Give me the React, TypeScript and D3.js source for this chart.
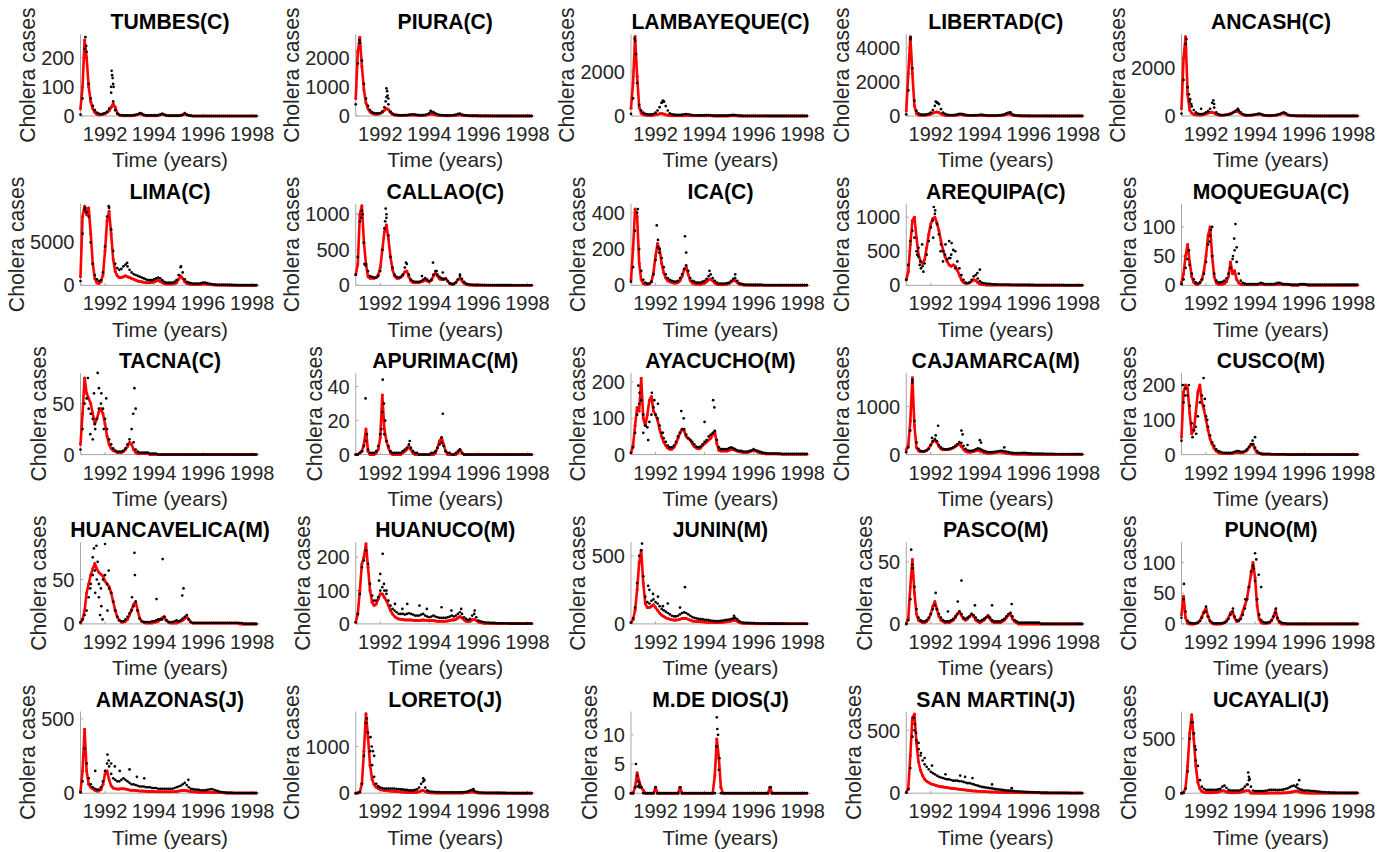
import * as d3 from "d3";

// monthly sampling times of the reconstructed series (years)
const months = d3.range(87).map((i) => 1991 + i / 12);
const yearTicks = [1992, 1994, 1996, 1998];

// ---- Row 1 ----
const tumbesObs = [
  5, 60, 230, 220, 110, 60, 35, 20, 12, 8, 6, 8,
  10, 15, 25, 100, 50, 20, 8, 4, 3, 2, 2, 2,
  2, 2, 3, 4, 6, 10, 8, 4, 2, 2, 2, 2,
  2, 2, 3, 5, 8, 5, 2, 1, 1, 1, 1, 1,
  1, 2, 4, 10, 5, 2, 1, 0, 0, 0, 0, 0,
  0, 0, 0, 0, 0, 0, 0, 0, 0, 0, 0, 0,
  0, 0, 0, 0, 0, 0, 0, 0, 0, 0, 0, 0,
  0, 0, 0,
];
const tumbesFit = [
  25, 100, 260, 200, 100, 50, 25, 12, 6, 4, 4, 6,
  8, 12, 18, 30, 42, 30, 10, 3, 1, 1, 1, 1,
  1, 1, 2, 3, 5, 8, 6, 3, 1, 1, 1, 1,
  1, 1, 2, 4, 6, 4, 2, 1, 1, 1, 1, 1,
  1, 2, 4, 7, 4, 2, 1, 0, 0, 0, 0, 0,
  0, 0, 0, 0, 0, 0, 0, 0, 0, 0, 0, 0,
  0, 0, 0, 0, 0, 0, 0, 0, 0, 0, 0, 0,
  0, 0, 0,
];
const tumbesExtra = [[1992.27, 155], [1992.29, 140], [1992.31, 130], [1992.33, 110], [1992.35, 100], [1992.25, 80], [1991.2, 270], [1991.23, 240]];

const piuraObs = [
  400, 1800, 2500, 1900, 1100, 600, 350, 200, 130, 100, 90, 90,
  100, 150, 300, 650, 400, 150, 80, 50, 40, 30, 25, 25,
  30, 30, 40, 50, 60, 50, 40, 30, 30, 30, 40, 60,
  100, 150, 130, 90, 60, 40, 30, 25, 20, 20, 20, 25,
  30, 50, 70, 80, 50, 30, 20, 15, 10, 10, 10, 10,
  8, 8, 8, 6, 5, 5, 4, 4, 4, 4, 4, 4,
  4, 3, 3, 3, 3, 3, 3, 2, 2, 2, 2, 2,
  2, 2, 2,
];
const piuraFit = [
  600, 2200, 2700, 1700, 900, 450, 250, 140, 90, 70, 60, 70,
  90, 130, 200, 260, 220, 120, 60, 35, 25, 20, 20, 20,
  22, 25, 30, 35, 35, 30, 25, 20, 20, 22, 28, 40,
  60, 70, 60, 40, 25, 18, 15, 12, 10, 10, 10, 12,
  15, 25, 35, 40, 25, 15, 10, 7, 5, 5, 5, 5,
  4, 4, 4, 3, 3, 3, 2, 2, 2, 2, 2, 2,
  2, 2, 2, 2, 1, 1, 1, 1, 1, 1, 1, 1,
  1, 1, 1,
];
const piuraExtra = [[1992.25, 950], [1992.28, 850], [1992.3, 700], [1992.33, 600], [1992.22, 500], [1994.05, 180], [1991.15, 2600]];

const lambayequeObs = [
  100, 800, 3400, 1500, 500, 250, 150, 100, 80, 70, 70, 90,
  150, 250, 400, 600, 650, 450, 250, 120, 80, 60, 50, 50,
  50, 60, 80, 90, 80, 60, 40, 30, 30, 30, 30, 30,
  30, 40, 40, 30, 20, 20, 15, 15, 15, 15, 15, 20,
  25, 40, 50, 40, 30, 20, 15, 10, 10, 10, 10, 10,
  8, 8, 7, 6, 6, 5, 5, 5, 4, 4, 4, 4,
  4, 3, 3, 3, 3, 3, 2, 2, 2, 2, 2, 2,
  2, 2, 2,
];
const lambayequeFit = [
  350, 1500, 3600, 1800, 400, 120, 60, 40, 30, 30, 30, 40,
  60, 80, 100, 110, 90, 60, 35, 20, 15, 10, 10, 10,
  12, 15, 20, 22, 20, 15, 10, 8, 8, 8, 8, 8,
  10, 12, 12, 10, 6, 5, 4, 4, 4, 4, 4, 5,
  6, 10, 12, 10, 6, 4, 3, 2, 2, 2, 2, 2,
  2, 2, 2, 1, 1, 1, 1, 1, 1, 1, 1, 1,
  1, 1, 1, 1, 1, 1, 1, 1, 1, 1, 1, 1,
  1, 1, 1,
];
const lambayequeExtra = [[1991.15, 3500], [1991.2, 2800], [1992.3, 700], [1992.35, 650], [1992.25, 600]];

const libertadObs = [
  100, 1500, 4500, 2800, 900, 300, 150, 100, 80, 80, 90, 120,
  200, 350, 600, 800, 700, 400, 200, 120, 80, 60, 60, 60,
  70, 90, 120, 130, 100, 70, 50, 40, 40, 40, 50, 60,
  70, 80, 60, 40, 30, 30, 30, 30, 30, 40, 50, 70,
  100, 150, 200, 180, 100, 50, 30, 20, 20, 15, 15, 15,
  12, 12, 10, 10, 10, 8, 8, 8, 6, 6, 6, 6,
  5, 5, 5, 4, 4, 4, 4, 3, 3, 3, 3, 3,
  3, 3, 3,
];
const libertadFit = [
  300, 2500, 4650, 2500, 600, 150, 60, 40, 40, 50, 60, 80,
  120, 170, 220, 240, 200, 130, 70, 40, 30, 30, 30, 30,
  40, 60, 80, 80, 60, 40, 30, 25, 25, 25, 30, 35,
  40, 40, 35, 25, 20, 20, 20, 20, 20, 25, 30, 40,
  60, 90, 130, 110, 60, 30, 15, 10, 8, 6, 5, 5,
  4, 4, 4, 4, 3, 3, 3, 3, 3, 3, 3, 3,
  2, 2, 2, 2, 2, 2, 2, 2, 2, 2, 2, 2,
  2, 2, 2,
];
const libertadExtra = [[1991.18, 4600], [1992.2, 850], [1992.25, 800], [1992.3, 750], [1995.25, 220]];

const ancashObs = [
  100, 1500, 3000, 1200, 600, 400, 250, 150, 100, 80, 80, 100,
  150, 200, 300, 550, 350, 150, 80, 50, 40, 40, 50, 60,
  80, 120, 180, 250, 230, 150, 80, 50, 40, 40, 40, 50,
  60, 80, 100, 80, 50, 30, 20, 20, 20, 30, 40, 60,
  80, 120, 150, 120, 60, 30, 20, 15, 10, 10, 10, 10,
  8, 8, 8, 6, 6, 5, 5, 5, 4, 4, 4, 4,
  4, 3, 3, 3, 3, 3, 3, 2, 2, 2, 2, 2,
  2, 2, 2,
];
const ancashFit = [
  300, 2400, 3300, 900, 250, 120, 70, 50, 40, 40, 40, 60,
  90, 120, 150, 160, 120, 70, 40, 30, 30, 40, 50, 70,
  100, 140, 180, 200, 170, 100, 50, 30, 25, 25, 30, 40,
  50, 70, 80, 60, 35, 20, 15, 15, 15, 20, 30, 45,
  60, 90, 110, 80, 40, 20, 10, 8, 6, 5, 5, 5,
  4, 4, 4, 3, 3, 3, 3, 2, 2, 2, 2, 2,
  2, 2, 2, 2, 1, 1, 1, 1, 1, 1, 1, 1,
  1, 1, 1,
];
const ancashExtra = [[1991.2, 3200], [1991.3, 900], [1991.35, 700], [1991.4, 500], [1992.3, 650], [1992.33, 500], [1993.3, 300], [1991.8, 300]];

// ---- Row 2 ----
const limaObs = [
  500, 6000, 8800, 8500, 8000, 5000, 2500, 1200, 700, 500, 600, 1500,
  4500, 8000, 9000, 6500, 4000, 2500, 2000, 1800, 1900, 2200, 2400, 2200,
  1800, 1500, 1300, 1200, 1100, 1000, 900, 800, 700, 600, 600, 600,
  700, 800, 900, 800, 600, 400, 300, 300, 300, 300, 400, 600,
  1200, 2100, 1500, 700, 400, 300, 250, 200, 200, 200, 200, 250,
  300, 300, 250, 200, 150, 100, 80, 60, 50, 50, 50, 50,
  50, 40, 40, 30, 30, 20, 20, 20, 20, 20, 20, 20,
  20, 20, 20,
];
const limaFit = [
  1000, 8000, 9200, 8200, 9000, 6000, 2500, 800, 300, 200, 400, 1200,
  4000, 7500, 8600, 6000, 3000, 1600, 1100, 900, 900, 1000, 1100, 1000,
  900, 800, 700, 600, 500, 450, 400, 350, 300, 300, 300, 350,
  400, 500, 550, 450, 300, 200, 150, 150, 150, 150, 200, 300,
  700, 1100, 800, 400, 200, 150, 120, 100, 100, 100, 100, 120,
  150, 150, 120, 100, 70, 50, 40, 30, 25, 25, 25, 25,
  25, 20, 20, 15, 15, 10, 10, 10, 10, 10, 10, 10,
  10, 10, 10,
];
const limaExtra = [[1992.15, 9200], [1991.2, 9000], [1995.1, 2200], [1992.9, 2600]];

const callaoObs = [
  150, 400, 900, 1050, 600, 300, 200, 130, 120, 110, 110, 130,
  200, 500, 800, 950, 700, 400, 250, 150, 120, 110, 120, 150,
  250, 300, 150, 80, 60, 50, 50, 50, 60, 80, 100, 80,
  60, 80, 150, 200, 150, 120, 100, 80, 90, 60, 30, 20,
  20, 40, 80, 130, 90, 50, 25, 15, 10, 8, 6, 5,
  5, 4, 4, 3, 3, 3, 3, 2, 2, 2, 2, 2,
  2, 2, 2, 2, 2, 1, 1, 1, 1, 1, 1, 1,
  1, 1, 1,
];
const callaoFit = [
  150, 300, 1000, 1120, 600, 300, 120, 100, 100, 100, 110, 150,
  250, 500, 750, 850, 650, 400, 220, 130, 100, 100, 110, 140,
  190, 200, 120, 60, 40, 35, 35, 40, 50, 60, 70, 60,
  50, 70, 130, 170, 130, 90, 80, 90, 100, 60, 25, 15,
  20, 40, 80, 100, 60, 30, 12, 6, 4, 3, 2, 2,
  2, 2, 2, 2, 1, 1, 1, 1, 1, 1, 1, 1,
  1, 1, 1, 1, 1, 1, 1, 1, 1, 1, 1, 1,
  1, 1, 1,
];
const callaoExtra = [[1991.22, 950], [1991.28, 1000], [1991.35, 300], [1991.4, 280], [1992.22, 1080], [1992.25, 1000], [1992.2, 900], [1993.05, 320], [1994.15, 320], [1994.3, 200], [1995.25, 150], [1993.7, 130], [1994.55, 180]];

const icaObs = [
  20, 100, 300, 400, 200, 80, 30, 15, 10, 10, 20, 60,
  140, 210, 200, 150, 100, 60, 40, 30, 25, 20, 20, 25,
  40, 60, 90, 110, 80, 40, 25, 20, 15, 15, 15, 20,
  25, 35, 50, 60, 40, 25, 15, 10, 10, 10, 10, 12,
  15, 25, 35, 40, 25, 12, 8, 5, 4, 3, 3, 2,
  2, 2, 2, 2, 2, 1, 1, 1, 1, 1, 1, 1,
  1, 1, 1, 1, 1, 1, 1, 1, 1, 1, 1, 1,
  1, 1, 1,
];
const icaFit = [
  30, 200, 420, 380, 120, 30, 10, 5, 5, 8, 20, 70,
  160, 230, 200, 120, 70, 40, 25, 20, 15, 12, 12, 15,
  25, 50, 85, 100, 60, 25, 12, 8, 6, 6, 6, 8,
  12, 20, 30, 35, 25, 12, 6, 4, 3, 3, 4, 6,
  10, 18, 25, 25, 15, 6, 3, 2, 1, 1, 1, 1,
  1, 1, 1, 1, 1, 0, 0, 0, 0, 0, 0, 0,
  0, 0, 0, 0, 0, 0, 0, 0, 0, 0, 0, 0,
  0, 0, 0,
];
const icaExtra = [[1991.28, 420], [1992.05, 330], [1992.1, 250], [1993.2, 270], [1993.25, 180], [1994.2, 80], [1995.25, 60], [1992.15, 180]];

const arequipaObs = [
  80, 300, 650, 800, 700, 500, 420, 350, 280, 320, 450, 650,
  850, 950, 1050, 900, 750, 600, 500, 450, 380, 400, 450, 520,
  500, 350, 250, 150, 80, 40, 30, 40, 80, 130, 150, 100,
  60, 40, 30, 25, 20, 20, 15, 15, 15, 12, 12, 12,
  10, 10, 10, 8, 8, 8, 6, 6, 6, 5, 5, 5,
  5, 5, 5, 4, 4, 4, 4, 4, 4, 3, 3, 3,
  3, 3, 3, 3, 3, 2, 2, 2, 2, 2, 2, 2,
  2, 2, 2,
];
const arequipaFit = [
  80, 200, 600, 950, 1000, 700, 450, 350, 320, 380, 550, 750,
  900, 980, 1000, 920, 800, 650, 520, 420, 350, 300, 280, 300,
  280, 220, 150, 80, 40, 30, 30, 40, 60, 80, 70, 40,
  20, 10, 8, 6, 6, 5, 5, 5, 5, 4, 4, 4,
  4, 4, 4, 3, 3, 3, 3, 3, 3, 3, 3, 3,
  2, 2, 2, 2, 2, 2, 2, 2, 2, 2, 2, 2,
  2, 2, 2, 2, 2, 2, 1, 1, 1, 1, 1, 1,
  1, 1, 1,
];
const arequipaExtra = [[1991.45, 450], [1991.55, 300], [1991.6, 250], [1991.65, 600], [1991.7, 200], [1992.12, 1150], [1992.18, 1100], [1992.1, 700], [1992.6, 600], [1992.75, 650], [1992.85, 620], [1992.8, 400], [1993.0, 250], [1994.0, 230], [1993.9, 180], [1991.5, 550], [1992.4, 500], [1992.5, 350]];

const moqueguaObs = [
  2, 10, 30, 45, 35, 20, 10, 5, 3, 5, 10, 20,
  40, 70, 85, 50, 20, 8, 5, 5, 6, 8, 12, 20,
  30, 45, 60, 40, 20, 8, 4, 3, 2, 2, 2, 2,
  2, 2, 3, 4, 3, 2, 2, 2, 2, 2, 3, 4,
  4, 3, 2, 2, 2, 1, 1, 1, 1, 1, 2, 2,
  2, 1, 1, 1, 1, 1, 1, 1, 1, 1, 1, 1,
  1, 1, 1, 1, 1, 1, 1, 1, 1, 1, 1, 1,
  1, 1, 1,
];
const moqueguaFit = [
  5, 20, 50, 70, 40, 15, 5, 2, 2, 4, 10, 25,
  50, 85, 100, 50, 15, 4, 2, 2, 2, 3, 6, 15,
  40, 20, 25, 10, 4, 2, 1, 1, 1, 1, 1, 1,
  1, 1, 2, 2, 2, 1, 1, 1, 1, 1, 1, 2,
  2, 2, 1, 1, 1, 1, 0, 0, 0, 0, 1, 1,
  1, 1, 0, 0, 0, 0, 0, 0, 0, 0, 0, 0,
  0, 0, 0, 0, 0, 0, 0, 0, 0, 0, 0, 0,
  0, 0, 0,
];
const moqueguaExtra = [[1993.2, 105], [1993.15, 80], [1993.25, 65], [1992.25, 100], [1992.2, 95], [1993.1, 50], [1991.3, 60], [1992.15, 75]];

// ---- Row 3 ----
const tacnaObs = [
  5, 25, 50, 55, 45, 40, 35, 30, 35, 45, 50, 45,
  35, 25, 15, 10, 6, 4, 3, 3, 3, 4, 6, 10,
  15, 25, 12, 5, 3, 2, 2, 2, 2, 2, 1, 1,
  1, 1, 0, 0, 0, 0, 0, 0, 0, 0, 0, 0,
  0, 0, 0, 0, 0, 0, 0, 0, 0, 0, 0, 0,
  0, 0, 0, 0, 0, 0, 0, 0, 0, 0, 0, 0,
  0, 0, 0, 0, 0, 0, 0, 0, 0, 0, 0, 0,
  0, 0, 0,
];
const tacnaFit = [
  10, 40, 75, 60, 55, 50, 40, 30, 35, 42, 45, 40,
  30, 18, 10, 6, 4, 3, 2, 2, 2, 3, 5, 8,
  12, 10, 5, 2, 1, 1, 1, 1, 1, 1, 0, 0,
  0, 0, 0, 0, 0, 0, 0, 0, 0, 0, 0, 0,
  0, 0, 0, 0, 0, 0, 0, 0, 0, 0, 0, 0,
  0, 0, 0, 0, 0, 0, 0, 0, 0, 0, 0, 0,
  0, 0, 0, 0, 0, 0, 0, 0, 0, 0, 0, 0,
  0, 0, 0,
];
const tacnaExtra = [[1991.3, 75], [1991.4, 20], [1991.5, 15], [1991.7, 80], [1991.75, 65], [1991.6, 25], [1991.85, 60], [1993.2, 65], [1993.25, 45], [1993.15, 40], [1991.55, 60], [1991.95, 25], [1992.05, 55]];

const apurimacObs = [
  0, 0, 1, 2, 5, 8, 3, 1, 1, 1, 2, 5,
  12, 25, 12, 8, 5, 2, 1, 1, 1, 1, 1, 2,
  3, 4, 6, 4, 2, 1, 1, 0, 0, 0, 0, 0,
  0, 1, 1, 2, 4, 6, 7, 5, 2, 1, 1, 0,
  0, 1, 2, 3, 1, 0, 0, 0, 0, 0, 0, 0,
  0, 0, 0, 0, 0, 0, 0, 0, 0, 0, 0, 0,
  0, 0, 0, 0, 0, 0, 0, 0, 0, 0, 0, 0,
  0, 0, 0,
];
const apurimacFit = [
  0, 0, 1, 2, 6, 15, 2, 0, 0, 0, 1, 3,
  10, 35, 15, 8, 4, 1, 0, 0, 0, 0, 0, 1,
  2, 3, 5, 3, 1, 0, 0, 0, 0, 0, 0, 0,
  0, 0, 0, 1, 4, 8, 10, 6, 2, 0, 0, 0,
  0, 0, 1, 3, 1, 0, 0, 0, 0, 0, 0, 0,
  0, 0, 0, 0, 0, 0, 0, 0, 0, 0, 0, 0,
  0, 0, 0, 0, 0, 0, 0, 0, 0, 0, 0, 0,
  0, 0, 0,
];
const apurimacExtra = [[1991.4, 33], [1992.1, 44], [1992.15, 30], [1992.2, 20], [1994.55, 24], [1994.5, 10], [1993.2, 8], [1992.05, 15], [1991.45, 12]];

const ayacuchoObs = [
  5, 20, 60, 110, 140, 150, 110, 80, 75, 90, 110, 130,
  110, 100, 80, 60, 45, 35, 25, 20, 20, 25, 35, 50,
  60, 70, 70, 55, 45, 40, 35, 28, 22, 20, 22, 28,
  35, 40, 50, 55, 60, 65, 40, 20, 15, 15, 15, 15,
  18, 20, 18, 15, 12, 10, 10, 8, 8, 8, 10, 12,
  15, 12, 10, 8, 6, 5, 4, 3, 3, 3, 3, 3,
  2, 2, 2, 2, 2, 2, 2, 2, 2, 2, 2, 2,
  2, 2, 2,
];
const ayacuchoFit = [
  5, 25, 80, 130, 120, 210, 100, 80, 110, 150, 160, 120,
  110, 95, 70, 50, 35, 25, 18, 15, 15, 20, 30, 45,
  60, 70, 65, 50, 45, 40, 30, 22, 18, 16, 18, 25,
  30, 35, 40, 45, 55, 65, 30, 12, 10, 10, 10, 10,
  12, 14, 14, 12, 10, 8, 7, 6, 6, 6, 8, 10,
  12, 10, 7, 5, 4, 3, 2, 2, 2, 2, 2, 2,
  2, 2, 1, 1, 1, 1, 1, 1, 1, 1, 1, 1,
  1, 1, 1,
];
const ayacuchoExtra = [[1991.3, 190], [1991.35, 170], [1991.85, 170], [1991.95, 150], [1992.1, 140], [1993.05, 120], [1993.15, 100], [1994.35, 150], [1994.4, 130], [1991.5, 60], [1992.3, 60], [1991.7, 40], [1994.0, 90]];

const cajamarcaObs = [
  50, 150, 500, 1500, 700, 250, 120, 80, 70, 70, 90, 120,
  200, 280, 320, 280, 200, 150, 120, 110, 110, 120, 130, 150,
  180, 220, 260, 240, 180, 120, 90, 80, 80, 90, 110, 130,
  120, 100, 80, 60, 50, 50, 50, 55, 60, 70, 80, 80,
  70, 60, 50, 40, 35, 30, 30, 30, 30, 35, 35, 30,
  25, 25, 20, 20, 20, 20, 20, 20, 18, 15, 15, 15,
  15, 12, 12, 12, 10, 10, 10, 10, 10, 10, 10, 10,
  10, 10, 10,
];
const cajamarcaFit = [
  100, 200, 700, 1600, 600, 150, 80, 60, 60, 70, 90, 130,
  200, 270, 300, 250, 170, 120, 100, 100, 100, 110, 120, 140,
  170, 200, 210, 170, 110, 70, 55, 50, 55, 65, 80, 90,
  80, 60, 45, 35, 30, 30, 35, 40, 50, 55, 55, 50,
  40, 30, 25, 20, 15, 12, 10, 10, 10, 10, 10, 8,
  6, 5, 5, 5, 4, 4, 4, 4, 4, 3, 3, 3,
  3, 3, 3, 3, 2, 2, 2, 2, 2, 2, 2, 2,
  2, 2, 2,
];
const cajamarcaExtra = [[1992.2, 400], [1992.3, 600], [1993.25, 500], [1993.3, 420], [1994.0, 300], [1994.05, 250], [1992.05, 350], [1995.0, 150], [1991.25, 1550], [1993.5, 200]];

const cuscoObs = [
  40, 150, 190, 170, 140, 90, 70, 80, 110, 150, 170, 140,
  110, 80, 55, 35, 25, 15, 10, 8, 6, 5, 5, 5,
  5, 6, 8, 10, 10, 8, 8, 10, 15, 22, 30, 30,
  20, 10, 5, 3, 2, 2, 2, 2, 1, 1, 1, 1,
  1, 1, 1, 1, 0, 0, 0, 0, 0, 0, 0, 0,
  0, 0, 0, 0, 0, 0, 0, 0, 0, 0, 0, 0,
  0, 0, 0, 0, 0, 0, 0, 0, 0, 0, 0, 0,
  0, 0, 0,
];
const cuscoFit = [
  50, 180, 200, 190, 120, 60, 70, 120, 180, 200, 150, 130,
  100, 70, 45, 30, 18, 10, 6, 4, 3, 3, 3, 3,
  3, 4, 5, 6, 6, 5, 6, 8, 12, 20, 28, 28,
  15, 6, 3, 2, 1, 1, 1, 1, 1, 1, 0, 0,
  0, 0, 0, 0, 0, 0, 0, 0, 0, 0, 0, 0,
  0, 0, 0, 0, 0, 0, 0, 0, 0, 0, 0, 0,
  0, 0, 0, 0, 0, 0, 0, 0, 0, 0, 0, 0,
  0, 0, 0,
];
const cuscoExtra = [[1991.05, 200], [1991.15, 170], [1991.9, 220], [1991.95, 160], [1991.45, 50], [1992.05, 100], [1994.0, 50], [1993.9, 40], [1991.6, 60], [1991.3, 200]];

// ---- Row 4 ----
const huancavelicaObs = [
  2, 5, 10, 15, 30, 45, 55, 60, 50, 45, 40, 50,
  55, 45, 40, 35, 25, 15, 8, 4, 3, 3, 5, 8,
  12, 15, 20, 25, 15, 6, 3, 2, 2, 2, 2, 3,
  3, 4, 5, 5, 5, 8, 4, 2, 2, 2, 3, 4,
  3, 4, 6, 8, 10, 5, 2, 1, 1, 1, 1, 1,
  1, 1, 1, 1, 1, 1, 1, 1, 1, 1, 1, 1,
  1, 1, 1, 1, 1, 1, 1, 1, 0, 0, 0, 0,
  0, 0, 0,
];
const huancavelicaFit = [
  1, 5, 15, 35, 45, 55, 62, 68, 62, 58, 56, 54,
  48, 45, 42, 35, 25, 15, 8, 4, 2, 2, 3, 5,
  10, 16, 22, 25, 15, 6, 3, 2, 1, 1, 1, 1,
  2, 2, 3, 5, 7, 8, 4, 2, 1, 1, 1, 1,
  2, 3, 4, 6, 8, 5, 2, 1, 1, 1, 1, 1,
  1, 1, 1, 1, 1, 1, 1, 1, 1, 1, 1, 1,
  1, 1, 1, 1, 1, 1, 0, 0, 0, 0, 0, 0,
  0, 0, 0,
];
const huancavelicaExtra = [[1991.55, 85], [1991.65, 88], [1991.5, 75], [1991.7, 70], [1992.0, 90], [1991.85, 20], [1991.9, 5], [1991.75, 30], [1992.15, 60], [1993.2, 80], [1993.22, 55], [1993.1, 30], [1994.35, 73], [1994.1, 28], [1995.2, 40], [1995.15, 32], [1991.6, 35], [1991.8, 10], [1992.1, 15], [1991.4, 40]];

const huanucoObs = [
  5, 30, 90, 170, 190, 220, 180, 120, 85, 70, 70, 80,
  100, 110, 100, 90, 70, 55, 45, 40, 35, 30, 30, 30,
  28, 30, 32, 30, 28, 25, 25, 25, 28, 30, 25, 22,
  20, 22, 25, 22, 20, 18, 18, 18, 18, 20, 22, 25,
  22, 25, 30, 35, 30, 20, 15, 12, 15, 25, 30, 20,
  10, 8, 6, 5, 4, 4, 3, 3, 3, 2, 2, 2,
  2, 2, 2, 1, 1, 1, 1, 1, 1, 1, 1, 1,
  1, 1, 1,
];
const huanucoFit = [
  5, 30, 100, 180, 200, 240, 170, 100, 65, 55, 60, 75,
  90, 90, 80, 70, 55, 40, 30, 22, 18, 15, 14, 13,
  12, 12, 12, 12, 11, 10, 10, 10, 11, 12, 11, 10,
  10, 10, 10, 9, 8, 8, 8, 8, 8, 9, 10, 12,
  12, 14, 18, 22, 18, 12, 8, 7, 8, 12, 14, 10,
  6, 4, 3, 2, 2, 2, 2, 1, 1, 1, 1, 1,
  1, 1, 1, 1, 1, 1, 1, 1, 1, 1, 1, 1,
  1, 1, 1,
];
const huanucoExtra = [[1992.1, 210], [1992.0, 150], [1991.95, 130], [1992.15, 120], [1992.25, 100], [1993.1, 60], [1993.6, 55], [1994.5, 50], [1995.3, 45], [1995.85, 40], [1992.9, 45], [1993.9, 45], [1992.6, 60], [1994.9, 40]];

const juninObs = [
  10, 40, 120, 300, 500, 540, 350, 200, 160, 150, 170, 180,
  160, 150, 130, 110, 100, 90, 80, 70, 60, 55, 55, 60,
  70, 80, 85, 80, 70, 60, 50, 45, 40, 38, 35, 35,
  30, 30, 28, 25, 22, 20, 20, 20, 22, 25, 28, 30,
  32, 35, 40, 45, 35, 20, 12, 10, 8, 8, 7, 6,
  5, 4, 4, 3, 3, 3, 3, 2, 2, 2, 2, 2,
  2, 2, 2, 2, 1, 1, 1, 1, 1, 1, 1, 1,
  1, 1, 1,
];
const juninFit = [
  10, 30, 100, 250, 450, 540, 300, 150, 120, 120, 130, 140,
  120, 100, 80, 65, 55, 45, 40, 35, 30, 28, 28, 30,
  35, 40, 42, 40, 35, 28, 22, 20, 18, 17, 16, 15,
  14, 13, 12, 11, 10, 10, 10, 10, 11, 12, 14, 16,
  18, 22, 26, 28, 20, 10, 6, 5, 4, 3, 3, 3,
  2, 2, 2, 2, 2, 2, 2, 2, 2, 2, 2, 2,
  2, 2, 2, 2, 1, 1, 1, 1, 1, 1, 1, 1,
  1, 1, 1,
];
const juninExtra = [[1991.45, 590], [1991.7, 280], [1991.75, 250], [1991.9, 220], [1992.1, 200], [1993.2, 270], [1993.0, 120], [1992.5, 150], [1992.3, 130], [1995.2, 60]];

const pascoObs = [
  0, 3, 20, 45, 30, 12, 5, 3, 2, 2, 3, 5,
  8, 12, 15, 12, 8, 5, 3, 2, 2, 2, 3, 4,
  6, 8, 10, 8, 5, 4, 5, 6, 8, 7, 5, 3,
  2, 3, 4, 5, 6, 5, 3, 2, 2, 2, 2, 3,
  4, 6, 8, 9, 6, 3, 2, 1, 1, 1, 1, 1,
  1, 1, 1, 1, 1, 1, 0, 0, 0, 0, 0, 0,
  0, 0, 0, 0, 0, 0, 0, 0, 0, 0, 0, 0,
  0, 0, 0,
];
const pascoFit = [
  0, 5, 30, 52, 25, 8, 3, 2, 1, 1, 2, 4,
  8, 14, 18, 12, 6, 3, 2, 1, 1, 1, 2, 3,
  5, 8, 10, 7, 4, 3, 4, 6, 8, 6, 3, 2,
  1, 2, 3, 5, 7, 4, 2, 1, 1, 1, 1, 2,
  3, 5, 7, 8, 4, 2, 1, 0, 0, 0, 0, 0,
  0, 0, 0, 0, 0, 0, 0, 0, 0, 0, 0, 0,
  0, 0, 0, 0, 0, 0, 0, 0, 0, 0, 0, 0,
  0, 0, 0,
];
const pascoExtra = [[1991.2, 60], [1991.25, 48], [1993.25, 35], [1992.2, 25], [1993.8, 15], [1995.3, 16], [1994.5, 15], [1993.1, 18], [1992.7, 10]];

const punoObs = [
  10, 40, 20, 5, 2, 1, 1, 1, 2, 5, 10, 18,
  20, 12, 5, 2, 1, 1, 1, 1, 1, 2, 4, 8,
  15, 20, 12, 6, 5, 8, 15, 25, 40, 60, 85, 95,
  70, 40, 15, 6, 3, 2, 2, 3, 6, 12, 18, 10,
  4, 2, 1, 1, 0, 0, 0, 0, 0, 0, 0, 0,
  0, 0, 0, 0, 0, 0, 0, 0, 0, 0, 0, 0,
  0, 0, 0, 0, 0, 0, 0, 0, 0, 0, 0, 0,
  0, 0, 0,
];
const punoFit = [
  15, 45, 10, 1, 0, 0, 0, 1, 2, 5, 12, 20,
  25, 12, 4, 1, 0, 0, 0, 0, 1, 2, 5, 10,
  18, 20, 10, 4, 5, 10, 20, 30, 40, 60, 80, 100,
  75, 30, 8, 2, 1, 1, 1, 2, 5, 12, 22, 8,
  2, 0, 0, 0, 0, 0, 0, 0, 0, 0, 0, 0,
  0, 0, 0, 0, 0, 0, 0, 0, 0, 0, 0, 0,
  0, 0, 0, 0, 0, 0, 0, 0, 0, 0, 0, 0,
  0, 0, 0,
];
const punoExtra = [[1994.0, 115], [1994.05, 105], [1993.95, 90], [1991.1, 65], [1994.15, 80], [1994.25, 60], [1993.6, 40], [1994.85, 25], [1992.0, 28], [1993.1, 25]];

// ---- Row 5 ----
const amazonasObs = [
  5, 80, 300, 200, 100, 60, 40, 30, 25, 25, 40, 80,
  150, 200, 180, 130, 100, 90, 80, 80, 90, 100, 90, 80,
  70, 60, 60, 55, 50, 45, 45, 45, 40, 40, 40, 35,
  35, 35, 30, 30, 30, 30, 30, 30, 30, 30, 35, 40,
  45, 50, 60, 70, 55, 40, 30, 28, 25, 25, 22, 20,
  20, 20, 22, 25, 28, 25, 20, 15, 10, 8, 6, 4,
  2, 2, 2, 1, 1, 1, 1, 1, 1, 1, 1, 1,
  1, 1, 1,
];
const amazonasFit = [
  10, 150, 430, 150, 60, 40, 30, 20, 15, 15, 25, 60,
  130, 150, 90, 50, 35, 30, 28, 28, 30, 30, 28, 25,
  22, 20, 20, 18, 16, 15, 15, 14, 13, 12, 12, 11,
  11, 10, 10, 10, 10, 10, 10, 10, 10, 10, 11, 12,
  14, 16, 18, 20, 16, 14, 12, 10, 9, 8, 7, 7,
  6, 6, 6, 6, 6, 5, 5, 4, 4, 3, 3, 2,
  2, 2, 2, 1, 1, 1, 1, 1, 1, 1, 1, 1,
  1, 1, 1,
];
const amazonasExtra = [[1992.1, 260], [1992.15, 220], [1992.25, 200], [1992.4, 180], [1992.6, 150], [1993.0, 160], [1993.3, 110], [1995.4, 90], [1993.6, 100], [1991.6, 150]];

const loretoObs = [
  0, 5, 30, 200, 800, 1500, 1300, 900, 600, 350, 200, 150,
  120, 110, 100, 100, 100, 100, 100, 100, 90, 90, 80, 80,
  70, 70, 60, 60, 60, 70, 80, 120, 200, 250, 120, 60,
  40, 30, 30, 25, 25, 25, 20, 20, 20, 20, 20, 20,
  20, 20, 20, 20, 20, 25, 30, 40, 60, 70, 50, 30,
  20, 15, 12, 10, 10, 10, 8, 8, 7, 6, 6, 5,
  5, 5, 4, 4, 4, 4, 3, 3, 3, 3, 3, 3,
  3, 3, 3,
];
const loretoFit = [
  0, 2, 20, 200, 900, 1700, 1200, 600, 300, 180, 130, 100,
  80, 70, 60, 55, 50, 45, 40, 40, 35, 30, 28, 25,
  22, 20, 18, 16, 15, 15, 18, 30, 50, 60, 35, 15,
  10, 8, 7, 6, 6, 6, 5, 5, 5, 5, 5, 5,
  5, 5, 5, 6, 6, 8, 12, 15, 25, 30, 20, 10,
  5, 4, 3, 2, 2, 2, 2, 2, 2, 2, 2, 2,
  1, 1, 1, 1, 1, 1, 1, 1, 1, 1, 1, 1,
  1, 1, 1,
];
const loretoExtra = [[1991.65, 1000], [1991.7, 900], [1991.75, 800], [1993.75, 320], [1993.8, 280], [1995.8, 90], [1991.45, 1600], [1991.6, 1200]];

const madreDeDiosObs = [
  0, 0, 1, 3, 1, 1, 0, 0, 0, 0, 0, 0,
  1, 0, 0, 0, 0, 0, 0, 0, 0, 0, 0, 0,
  1, 0, 0, 0, 0, 0, 0, 0, 0, 0, 0, 0,
  0, 0, 0, 0, 0, 0, 8, 4, 0, 0, 0, 0,
  0, 0, 0, 0, 0, 0, 0, 0, 0, 0, 0, 0,
  0, 0, 0, 0, 0, 0, 0, 0, 1, 0, 0, 0,
  0, 0, 0, 0, 0, 0, 0, 0, 0, 0, 0, 0,
  0, 0, 0,
];
const madreDeDiosFit = [
  0, 0, 1, 3.5, 2, 1, 0.5, 0, 0, 0, 0, 0,
  1, 0, 0, 0, 0, 0, 0, 0, 0, 0, 0, 0,
  1, 0, 0, 0, 0, 0, 0, 0, 0, 0, 0, 0,
  0, 0, 0, 0, 0, 3, 9.3, 6, 1, 0, 0, 0,
  0, 0, 0, 0, 0, 0, 0, 0, 0, 0, 0, 0,
  0, 0, 0, 0, 0, 0, 0, 0, 1, 0, 0, 0,
  0, 0, 0, 0, 0, 0, 0, 0, 0, 0, 0, 0,
  0, 0, 0,
];
const madreDeDiosExtra = [[1991.2, 5], [1991.3, 2], [1991.35, 1.5], [1994.5, 13], [1994.52, 11], [1994.55, 10], [1994.48, 8], [1994.6, 6], [1992.0, 1], [1993.0, 1], [1996.7, 1], [1991.28, 1.2]];

const sanMartinObs = [
  5, 30, 200, 450, 500, 420, 350, 300, 260, 230, 210, 190,
  170, 160, 150, 140, 130, 125, 120, 115, 110, 110, 105, 100,
  100, 100, 95, 95, 90, 85, 80, 80, 75, 70, 65, 60,
  55, 50, 48, 45, 42, 40, 38, 35, 32, 30, 28, 26,
  24, 22, 20, 20, 18, 16, 15, 14, 12, 12, 10, 10,
  9, 8, 8, 7, 6, 6, 5, 5, 4, 4, 3, 3,
  3, 3, 2, 2, 2, 2, 2, 2, 1, 1, 1, 1,
  1, 1, 1,
];
const sanMartinFit = [
  5, 40, 300, 600, 630, 400, 250, 180, 140, 110, 95, 85,
  75, 70, 65, 60, 55, 52, 50, 48, 45, 42, 40, 38,
  36, 34, 32, 30, 28, 26, 24, 22, 20, 18, 17, 16,
  15, 14, 13, 12, 11, 10, 10, 9, 9, 8, 8, 7,
  7, 6, 6, 6, 5, 5, 5, 5, 4, 4, 4, 4,
  3, 3, 3, 3, 3, 3, 2, 2, 2, 2, 2, 2,
  2, 2, 2, 1, 1, 1, 1, 1, 1, 1, 1, 1,
  1, 1, 1,
];
const sanMartinExtra = [[1991.35, 550], [1991.4, 480], [1991.5, 400], [1991.6, 320], [1991.75, 280], [1992.05, 220], [1992.6, 150], [1993.2, 140], [1993.4, 130], [1993.7, 120], [1994.5, 70], [1995.3, 40], [1991.3, 600]];

const ucayaliObs = [
  0, 5, 40, 200, 500, 650, 550, 400, 250, 120, 60, 40,
  30, 30, 30, 30, 30, 30, 35, 40, 60, 70, 50, 30,
  25, 25, 25, 25, 25, 30, 40, 60, 80, 120, 60, 25,
  20, 20, 20, 20, 20, 22, 25, 30, 30, 30, 30, 28,
  30, 30, 35, 40, 45, 55, 65, 70, 60, 45, 35, 30,
  25, 25, 25, 22, 20, 20, 18, 15, 12, 10, 10, 8,
  8, 6, 5, 5, 4, 4, 4, 3, 3, 3, 3, 3,
  3, 3, 3,
];
const ucayaliFit = [
  0, 5, 50, 250, 550, 720, 500, 250, 100, 40, 15, 8,
  5, 5, 5, 5, 6, 8, 12, 18, 22, 20, 12, 6,
  4, 4, 4, 4, 6, 10, 15, 20, 22, 22, 1, 1,
  1, 1, 1, 1, 1, 1, 1, 2, 2, 2, 2, 2,
  2, 2, 3, 3, 5, 8, 12, 16, 20, 18, 10, 5,
  3, 2, 2, 1, 1, 1, 1, 1, 1, 1, 1, 1,
  1, 1, 1, 1, 1, 1, 1, 1, 1, 1, 1, 1,
  1, 1, 1,
];
const ucayaliExtra = [[1993.72, 190], [1993.75, 150], [1993.78, 130], [1993.7, 80], [1995.8, 120], [1995.72, 80], [1991.45, 650], [1991.5, 550], [1991.55, 430], [1991.58, 300]];

const panels = [
  { title: "TUMBES(C)", obs: tumbesObs, fit: tumbesFit, extra: tumbesExtra, yMax: 280, yTicks: [0, 100, 200] },
  { title: "PIURA(C)", obs: piuraObs, fit: piuraFit, extra: piuraExtra, yMax: 2800, yTicks: [0, 1000, 2000] },
  { title: "LAMBAYEQUE(C)", obs: lambayequeObs, fit: lambayequeFit, extra: lambayequeExtra, yMax: 3700, yTicks: [0, 2000] },
  { title: "LIBERTAD(C)", obs: libertadObs, fit: libertadFit, extra: libertadExtra, yMax: 4800, yTicks: [0, 2000, 4000] },
  { title: "ANCASH(C)", obs: ancashObs, fit: ancashFit, extra: ancashExtra, yMax: 3400, yTicks: [0, 2000] },
  { title: "LIMA(C)", obs: limaObs, fit: limaFit, extra: limaExtra, yMax: 9500, yTicks: [0, 5000] },
  { title: "CALLAO(C)", obs: callaoObs, fit: callaoFit, extra: callaoExtra, yMax: 1150, yTicks: [0, 500, 1000] },
  { title: "ICA(C)", obs: icaObs, fit: icaFit, extra: icaExtra, yMax: 450, yTicks: [0, 200, 400] },
  { title: "AREQUIPA(C)", obs: arequipaObs, fit: arequipaFit, extra: arequipaExtra, yMax: 1200, yTicks: [0, 500, 1000] },
  { title: "MOQUEGUA(C)", obs: moqueguaObs, fit: moqueguaFit, extra: moqueguaExtra, yMax: 140, yTicks: [0, 50, 100] },
  { title: "TACNA(C)", obs: tacnaObs, fit: tacnaFit, extra: tacnaExtra, yMax: 80, yTicks: [0, 50] },
  { title: "APURIMAC(M)", obs: apurimacObs, fit: apurimacFit, extra: apurimacExtra, yMax: 48, yTicks: [0, 20, 40] },
  { title: "AYACUCHO(M)", obs: ayacuchoObs, fit: ayacuchoFit, extra: ayacuchoExtra, yMax: 225, yTicks: [0, 100, 200] },
  { title: "CAJAMARCA(M)", obs: cajamarcaObs, fit: cajamarcaFit, extra: cajamarcaExtra, yMax: 1700, yTicks: [0, 1000] },
  { title: "CUSCO(M)", obs: cuscoObs, fit: cuscoFit, extra: cuscoExtra, yMax: 235, yTicks: [0, 100, 200] },
  { title: "HUANCAVELICA(M)", obs: huancavelicaObs, fit: huancavelicaFit, extra: huancavelicaExtra, yMax: 92, yTicks: [0, 50] },
  { title: "HUANUCO(M)", obs: huanucoObs, fit: huanucoFit, extra: huanucoExtra, yMax: 245, yTicks: [0, 100, 200] },
  { title: "JUNIN(M)", obs: juninObs, fit: juninFit, extra: juninExtra, yMax: 600, yTicks: [0, 500] },
  { title: "PASCO(M)", obs: pascoObs, fit: pascoFit, extra: pascoExtra, yMax: 66, yTicks: [0, 50] },
  { title: "PUNO(M)", obs: punoObs, fit: punoFit, extra: punoExtra, yMax: 133, yTicks: [0, 50, 100] },
  { title: "AMAZONAS(J)", obs: amazonasObs, fit: amazonasFit, extra: amazonasExtra, yMax: 550, yTicks: [0, 500] },
  { title: "LORETO(J)", obs: loretoObs, fit: loretoFit, extra: loretoExtra, yMax: 1750, yTicks: [0, 1000] },
  { title: "M.DE DIOS(J)", obs: madreDeDiosObs, fit: madreDeDiosFit, extra: madreDeDiosExtra, yMax: 14, yTicks: [0, 5, 10] },
  { title: "SAN MARTIN(J)", obs: sanMartinObs, fit: sanMartinFit, extra: sanMartinExtra, yMax: 650, yTicks: [0, 500] },
  { title: "UCAYALI(J)", obs: ucayaliObs, fit: ucayaliFit, extra: ucayaliExtra, yMax: 750, yTicks: [0, 500] },
];

const W = 179;
const H = 81.7;
const FONT = "'Liberation Sans', Arial, Helvetica, sans-serif";
const AXIS = "#a6a6a6";
const INK = "#262626";

function Panel({ p, x0, y0 }) {
  const x = d3.scaleLinear().domain([1991, 1998.3]).range([0, W]);
  const y = d3.scaleLinear().domain([0, p.yMax]).range([H, 0]);
  const fitPts = p.fit.map((v, i) => [months[i], v]);
  const obsPts = p.obs.map((v, i) => [months[i], v]).concat(p.extra);
  const line = d3
    .line()
    .x((d) => x(d[0]))
    .y((d) => y(d[1]));
  const chars = d3.max(p.yTicks, (t) => String(t).length);
  const labelX = -6 - chars * 11.4 - 13;

  return (
    <g transform={`translate(${x0},${y0})`} fontFamily={FONT}>
      <text x={W / 2} y={-5} textAnchor="middle" fontWeight="bold" fontSize={21.2} fill="#000">
        {p.title}
      </text>
      <line x1={0} x2={0} y1={0} y2={H} stroke={AXIS} />
      <line x1={0} x2={W} y1={H} y2={H} stroke={AXIS} />
      {yearTicks.map((t) => (
        <line key={"xt" + t} x1={x(t)} x2={x(t)} y1={H} y2={H - 2.5} stroke={AXIS} />
      ))}
      {p.yTicks.map((t) => (
        <line key={"yt" + t} x1={0} x2={2.5} y1={y(t)} y2={y(t)} stroke={AXIS} />
      ))}
      <path d={line(fitPts)} fill="none" stroke="#ff0000" strokeWidth={2.6} strokeLinejoin="round" />
      {fitPts.map((d, i) => (
        <circle key={"f" + i} cx={x(d[0])} cy={y(d[1])} r={1.5} fill="#ff0000" />
      ))}
      {obsPts.map((d, i) => (
        <circle key={"o" + i} cx={x(d[0])} cy={y(d[1])} r={1.35} fill="#000" />
      ))}
      {p.yTicks.map((t) => (
        <text key={"yl" + t} x={-6} y={y(t)} dy="0.36em" textAnchor="end" fontSize={20} fill={INK}>
          {t}
        </text>
      ))}
      {yearTicks.map((t) => (
        <text key={"xl" + t} x={x(t)} y={H + 25} textAnchor="middle" fontSize={20} fill={INK}>
          {t}
        </text>
      ))}
      <text x={W / 2} y={H + 51.5} textAnchor="middle" fontSize={20.8} fill={INK}>
        Time (years)
      </text>
      <text
        transform={`translate(${labelX},${H / 2}) rotate(-90)`}
        textAnchor="middle"
        dy="0.36em"
        fontSize={21.2}
        fill={INK}
      >
        Cholera cases
      </text>
    </g>
  );
}

export default function App() {
  return (
    <svg
      width={1395}
      height={852}
      style={{ position: "absolute", left: 0, top: 0, background: "#fff" }}
    >
      {panels.map((p, k) => {
        const col = k % 5;
        const row = Math.floor(k / 5);
        const x0 = 80.5 + 275.25 * col;
        const y0 = 116 + 169.3 * row - H;
        return <Panel key={p.title} p={p} x0={x0} y0={y0} />;
      })}
    </svg>
  );
}
